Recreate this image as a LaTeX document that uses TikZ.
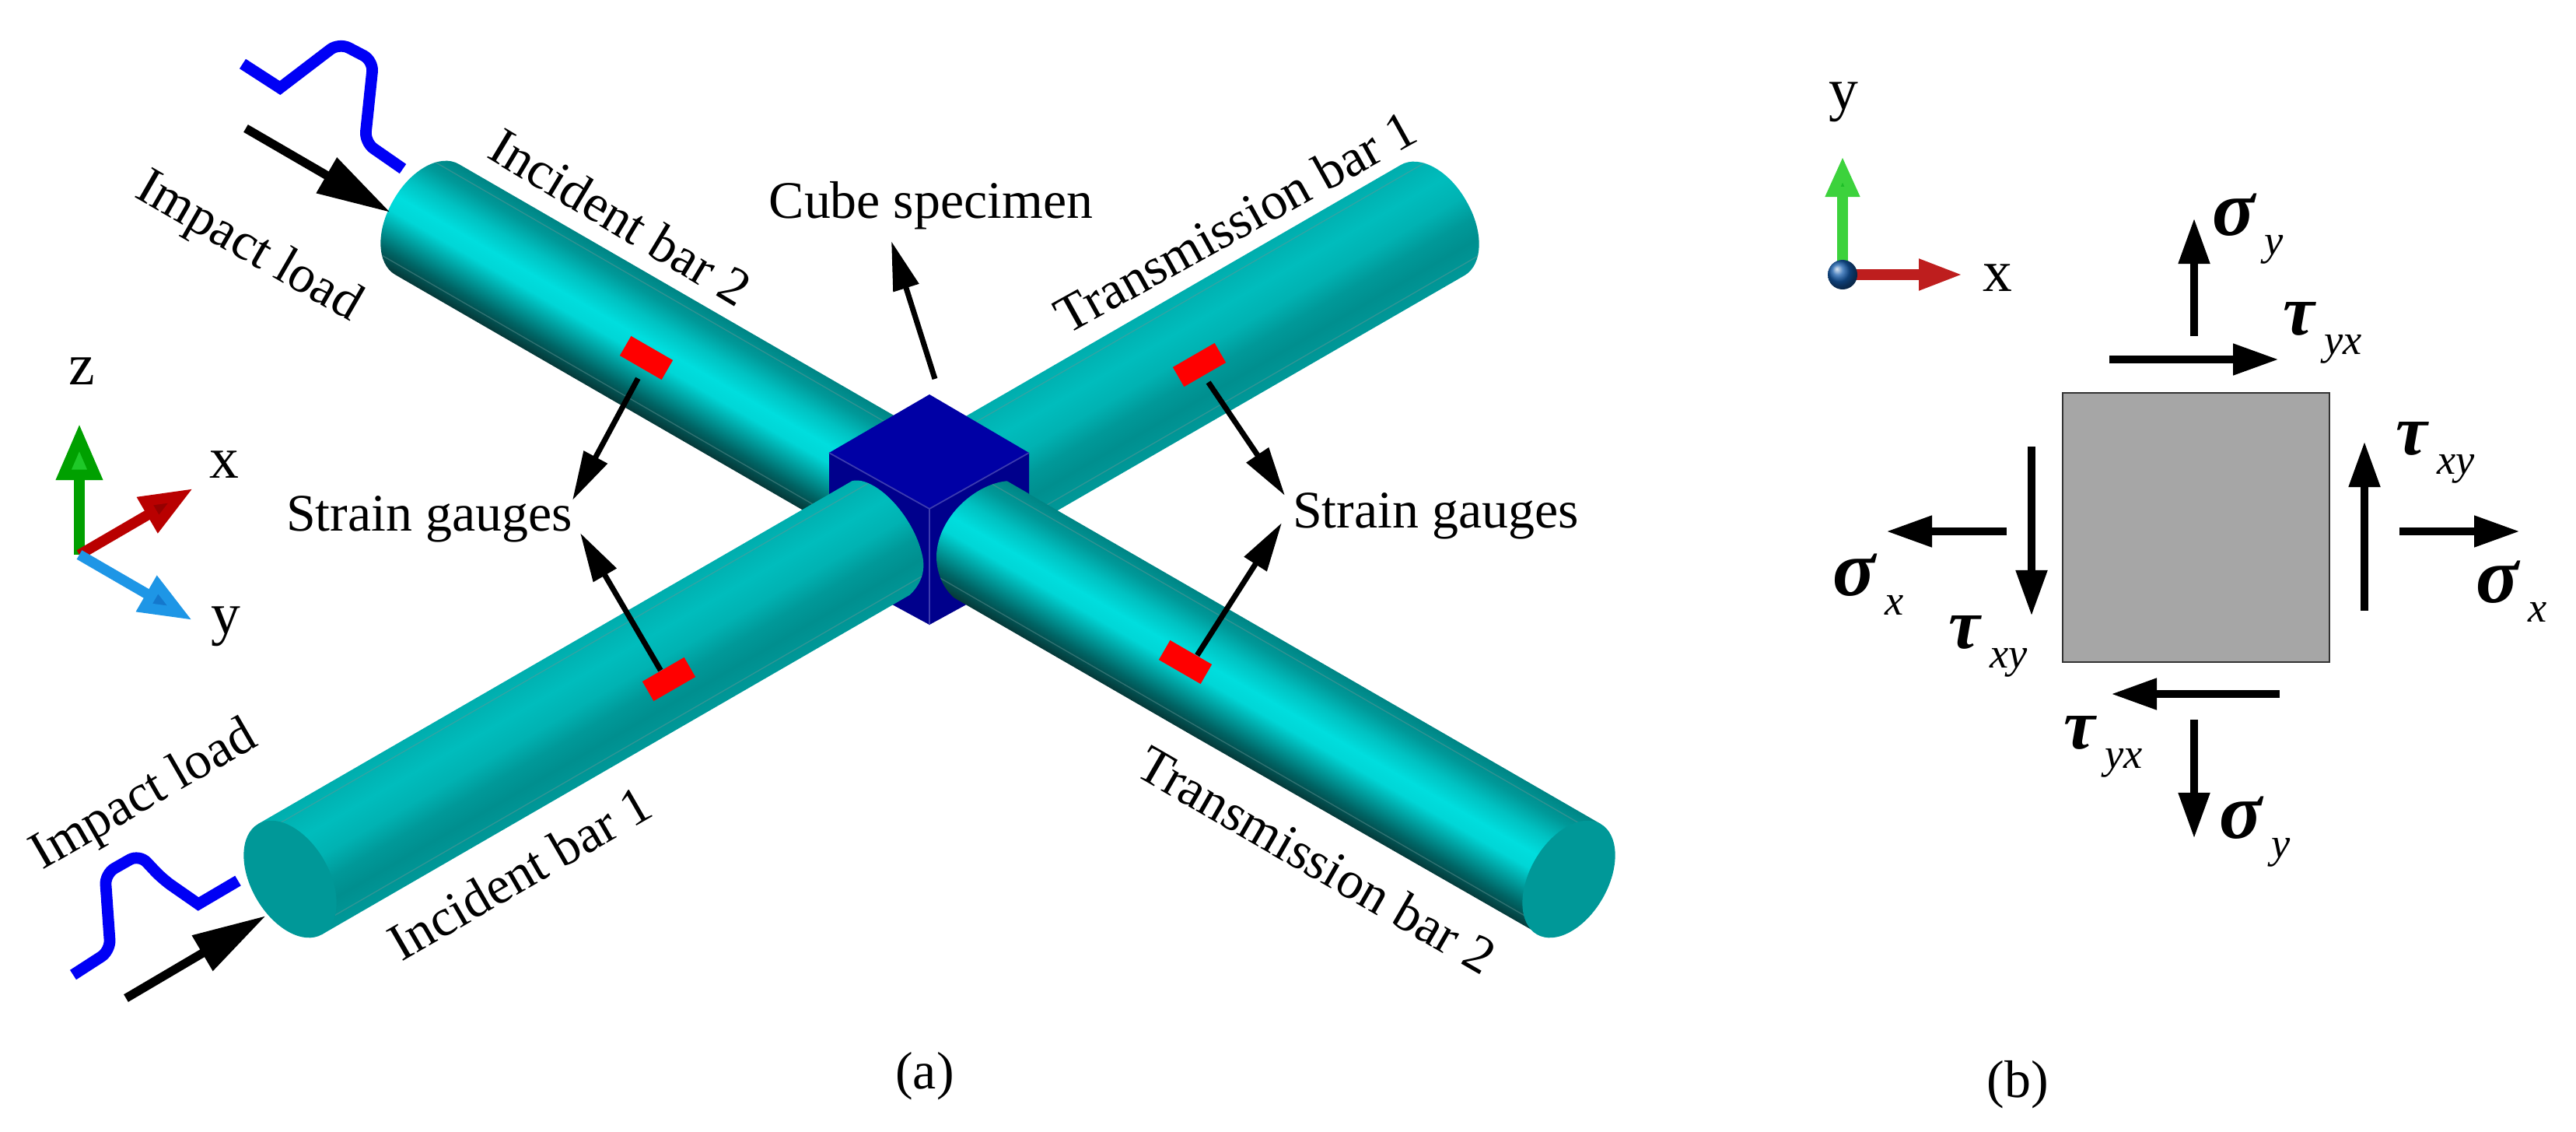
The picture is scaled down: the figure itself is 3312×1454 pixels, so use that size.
\documentclass[tikz,border=0pt]{standalone}
\usepackage{fontspec}
\setmainfont{Liberation Serif}
\usetikzlibrary{arrows.meta}
\definecolor{capteal}{RGB}{0, 152, 152}
\definecolor{cubetop}{RGB}{0, 0, 165}
\definecolor{cubeside}{RGB}{0, 0, 140}
\definecolor{cubeedge}{RGB}{60, 60, 175}
\definecolor{barline}{RGB}{105, 150, 150}
\definecolor{wave}{RGB}{0, 0, 245}
\definecolor{blockgray}{RGB}{166, 166, 166}

\pgfdeclareverticalshading{brightbar}{100bp}{rgb(0bp)=(.02,.22,.22); rgb(25bp)=(.02,.22,.22); rgb(32bp)=(0,.40,.40); rgb(39bp)=(0,.62,.62); rgb(46bp)=(0,.84,.84); rgb(52bp)=(0,.87,.87); rgb(60bp)=(0,.76,.76); rgb(68bp)=(0,.6,.6); rgb(75bp)=(0,.52,.52); rgb(100bp)=(0,.52,.52)}
\pgfdeclareverticalshading{dullbar}{100bp}{rgb(0bp)=(0,.6,.6); rgb(25bp)=(0,.6,.6); rgb(35bp)=(0,.56,.56); rgb(43bp)=(0,.6,.6); rgb(52bp)=(0,.7,.7); rgb(62bp)=(0,.74,.74); rgb(75bp)=(0,.68,.68); rgb(100bp)=(0,.68,.68)}

\newcommand{\barbody}[4]{%
  \begin{scope}[transform canvas={shift={(#1,#2)},rotate=#3}]
    \shade[shading=#4] (-1200,-82) rectangle (1200,82);
    \draw[barline, line width=0.4pt, opacity=0.45] (-1200,-69) -- (1200,-69) (-1200,69) -- (1200,69);
  \end{scope}}
\newcommand{\stress}[3][26]{{\fontsize{#1}{26}\selectfont\bfseries\itshape #2}\kern.12cm\raisebox{-.25cm}{\fontsize{15.5}{16}\selectfont\itshape #3}}

\tikzset{
  lbl/.style={font=\fontsize{19.3}{22}\selectfont, inner sep=0pt},
  axlbl/.style={font=\fontsize{21.5}{24}\selectfont, inner sep=0pt},
  gauge/.style={fill=red, minimum width=0.62cm, minimum height=0.29cm, inner sep=0pt},
  thinarrow/.style={line width=2pt, -{Triangle[length=0.63cm, width=0.33cm]}},
  loadarrow/.style={line width=3.2pt, -{Triangle[length=0.95cm, width=0.5cm]}},
  stressarrow/.style={line width=3.1pt, -{Triangle[length=0.59cm, width=0.38cm]}},
  pulse/.style={wave, line width=4.2pt}
}

\begin{document}
\begin{tikzpicture}[x=0.01cm, y=-0.01cm]
  \useasboundingbox (0,0) rectangle (3312,1454);

  % Back bars
  \begin{scope}
    \clip (590,211) .. controls (566,197) and (528,218) .. (506,257) .. controls (483,296) and (484,339) .. (508,353) -- (1114,703) -- (1196,561) -- cycle;
    \barbody{549}{282}{-30}{brightbar}
  \end{scope}
  \begin{scope}
    \clip (1801,212) .. controls (1825,198) and (1863,219) .. (1885,258) .. controls (1908,297) and (1907,340) .. (1883,354) -- (1277,704) -- (1195,562) -- cycle;
    \barbody{1842}{283}{30}{dullbar}
  \end{scope}

  % Cube
  \fill[cubeside] (1066,582) -- (1323,582) -- (1323,733) -- (1195,803) -- (1066,733) -- cycle;
  \fill[cubetop] (1195,507) -- (1323,582) -- (1195,654) -- (1066,582) -- cycle;
  \draw[cubeedge, line width=0.5pt] (1066,582) -- (1195,654) -- (1323,582) (1195,654) -- (1195,803);

  % Front bars
  \begin{scope}
    \clip (332,1059) -- (1066,633) .. controls (1085,620) and (1095,616) .. (1107,618) .. controls (1140,625) and (1180,675) .. (1187,720) .. controls (1190,745) and (1175,765) .. (1151,778) -- (414,1201) -- cycle;
    \barbody{373}{1130}{30}{dullbar}
  \end{scope}
  \begin{scope}
    \clip (2058,1059) -- (1323,635) .. controls (1310,625) and (1305,620) .. (1298,618) .. controls (1255,620) and (1205,665) .. (1204,715) .. controls (1204,745) and (1220,768) .. (1241,778) -- (1976,1199) -- cycle;
    \barbody{2017}{1130}{-30}{brightbar}
  \end{scope}
  \begin{scope}[transform canvas={shift={(373,1130)},rotate=30}]
    \fill[capteal] (0,0) ellipse [x radius=50, y radius=82];
  \end{scope}
  \begin{scope}[transform canvas={shift={(2017,1130)},rotate=-30}]
    \fill[capteal] (0,0) ellipse [x radius=50, y radius=82];
  \end{scope}

  % Strain gauges on the bars
  \node[gauge, rotate=-30] (gaugeA) at (831,460) {};
  \node[gauge, rotate=30] (gaugeB) at (860,873) {};
  \node[gauge, rotate=30] (gaugeC) at (1542,469) {};
  \node[gauge, rotate=-30] (gaugeD) at (1524,851) {};

  \coordinate (tipA) at (736,643);
  \coordinate (tipB) at (746,685);
  \coordinate (tipC) at (1652,637);
  \coordinate (tipD) at (1648,672);
  \draw[thinarrow, shorten <=0.13cm] (gaugeA.283) -- (tipA);
  \draw[thinarrow] (gaugeB.103) -- (tipB);
  \draw[thinarrow, shorten <=0.1cm] (gaugeC.263) -- (tipC);
  \draw[thinarrow] (gaugeD.60) -- (tipD);

  % Cube arrow
  \coordinate (cubeTail) at (1202,487);
  \coordinate (cubeTip) at (1146,310);
  \draw[thinarrow] (cubeTail) -- (cubeTip);

  % Impact arrows and pulses
  \coordinate (loadTailT) at (316,165);
  \coordinate (loadTipT) at (502,273);
  \coordinate (loadTailB) at (162,1283);
  \coordinate (loadTipB) at (342,1177);
  \draw[loadarrow] (loadTailT) -- (loadTipT);
  \draw[loadarrow] (loadTailB) -- (loadTipB);
  \draw[pulse] (312,82) -- (360,113) [rounded corners=0.14cm] -- (436,55) -- (480,78) -- (469,183) [sharp corners] -- (518,217);
  \draw[pulse] (306,1132) -- (255,1162) [rounded corners=0.14cm] -- (209,1130) -- (179,1098) -- (135,1123) -- (142,1222) [sharp corners] -- (94,1253);

  % Labels
  \node[lbl, rotate=-30] (impactT) at (319,319) {Impact load};
  \node[lbl, rotate=-31] (incidentTwo) at (798,279) {Incident bar 2};
  \node[lbl, rotate=29] (transOne) at (1588,285) {Transmission bar 1};
  \node[lbl] (cubeLbl) at (1197,264) {Cube specimen};
  \node[lbl] (strainL) at (552,667) {Strain gauges};
  \node[lbl] (strainR) at (1846,663) {Strain gauges};
  \node[lbl, rotate=30] (impactB) at (186,1024) {Impact load};
  \node[lbl, rotate=30] (incidentOne) at (668,1122) {Incident bar 1};
  \node[lbl, rotate=-30] (transTwo) at (1693,1105) {Transmission bar 2};
  \node[lbl] (capA) at (1189,1383) {(a)};
  \node[lbl] (capB) at (2594,1394) {(b)};

  % Axes of (a)
  \coordinate (triO) at (102,713);
  \coordinate (triZ) at (102,545);
  \coordinate (triX) at (248,628);
  \coordinate (triY) at (247,797);
  \draw[line width=3.8pt, color={rgb,255:red,0;green,160;blue,0}, -{Triangle[length=0.72cm, width=0.57cm, fill={rgb,255:red,30;green,200;blue,40}]}] (triO) -- (triZ);
  \draw[line width=3.8pt, color={rgb,255:red,185;green,0;blue,0}, -{Triangle[length=0.68cm, width=0.5cm, fill={rgb,255:red,150;green,0;blue,0}]}] (triO) -- (triX);
  \draw[line width=3.8pt, color={rgb,255:red,30;green,150;blue,230}, -{Triangle[length=0.68cm, width=0.5cm, fill={rgb,255:red,20;green,120;blue,205}]}] (triO) -- (triY);
  \node[axlbl] (lblZ) at (105,477) {z};
  \node[axlbl] (lblX) at (288,597) {x};
  \node[axlbl] (lblY) at (290,805) {y};

  % Axes of (b)
  \coordinate (planeO) at (2369,353);
  \coordinate (planeY) at (2369,201);
  \coordinate (planeX) at (2524,353);
  \draw[line width=3.8pt, color={rgb,255:red,60;green,210;blue,60}, -{Triangle[length=0.52cm, width=0.41cm, fill={rgb,255:red,30;green,190;blue,40}]}] (planeO) -- (planeY);
  \draw[line width=3.8pt, color={rgb,255:red,190;green,30;blue,30}, -{Triangle[length=0.57cm, width=0.37cm]}] (planeO) -- (planeX);
  \shade[ball color={rgb,255:red,20;green,90;blue,170}] (planeO) circle (19);
  \node[axlbl] (lblYb) at (2370,131) {y};
  \node[axlbl] (lblXb) at (2568,357) {x};

  % Stressed element
  \node[draw=black!80, line width=0.7pt, fill=blockgray, minimum width=3.43cm, minimum height=3.46cm, inner sep=0pt] (block) at (2823.5,678) {};

  \foreach \nm/\xa/\ya/\xb/\yb in {sigT/2821/432/2821/280, tauT/2712/462/2930/462, tauR/3040/785/3040/567, sigR/3085/683/3240/683, sigL/2580/683/2425/683, tauL/2612/574/2612/792, tauB/2931/892/2714/892, sigB/2821/925/2821/1078}{
    \coordinate (\nm a) at (\xa,\ya);
    \coordinate (\nm b) at (\xb,\yb);
    \draw[stressarrow] (\nm a) -- (\nm b);
  }

  \node[inner sep=0pt] (lblSigT) at (2890,294) {\stress[29]{σ}{y}};
  \node[inner sep=0pt] (lblTauT) at (2986,428) {\stress{τ}{yx}};
  \node[inner sep=0pt] (lblTauR) at (3131,582) {\stress{τ}{xy}};
  \node[inner sep=0pt] (lblSigR) at (3229,760) {\stress[29]{σ}{x}};
  \node[inner sep=0pt] (lblSigL) at (2402,751) {\stress[29]{σ}{x}};
  \node[inner sep=0pt] (lblTauL) at (2556,831) {\stress{τ}{xy}};
  \node[inner sep=0pt] (lblTauB) at (2704,960) {\stress{τ}{yx}};
  \node[inner sep=0pt] (lblSigB) at (2899,1069) {\stress[29]{σ}{y}};
\end{tikzpicture}
\end{document}
